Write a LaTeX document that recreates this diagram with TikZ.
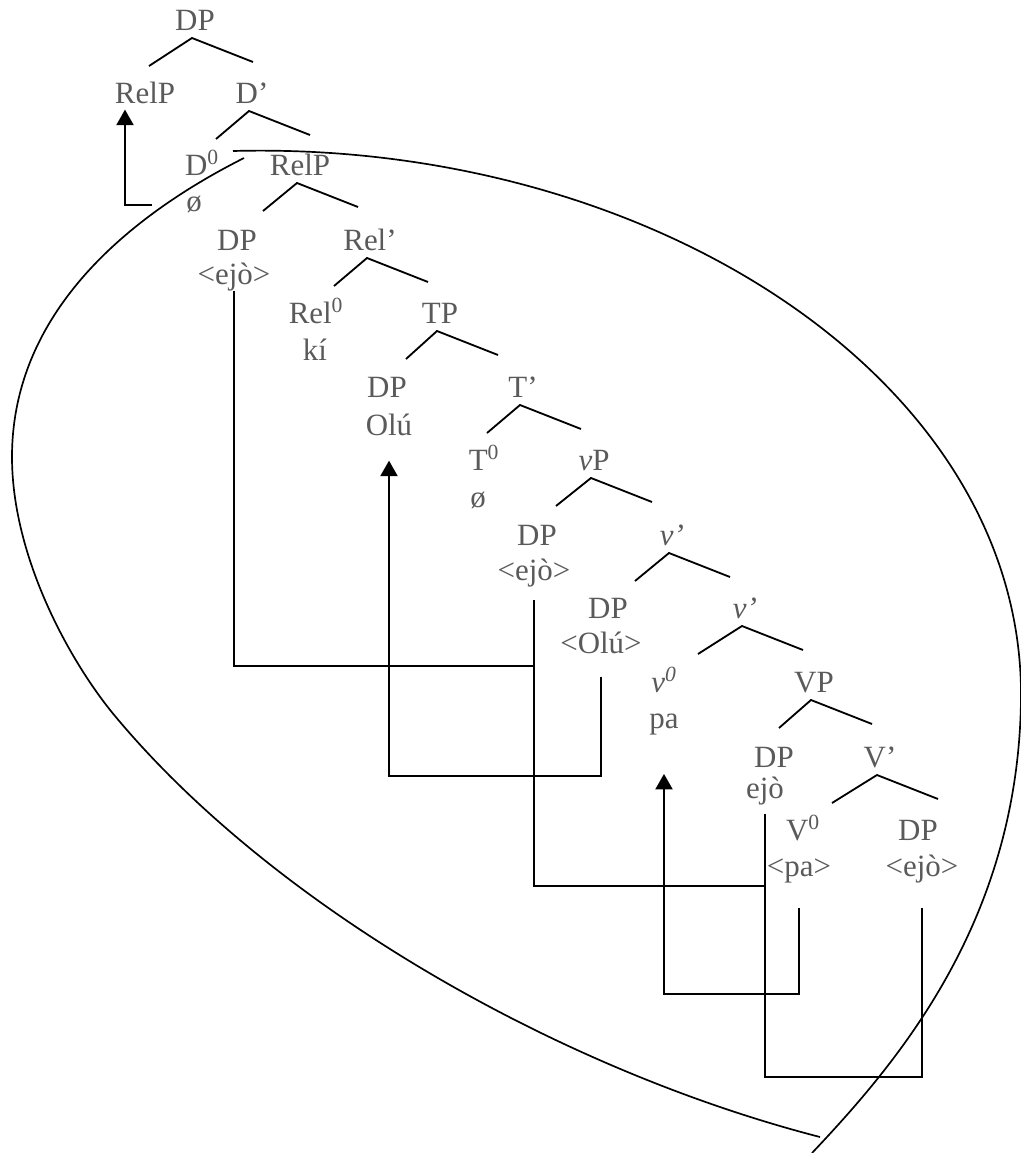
\documentclass[tikz,border=0pt]{standalone}
\usepackage{fontspec}
\setmainfont{Liberation Serif}
\usepackage{xcolor}
\usetikzlibrary{arrows.meta,calc}
\definecolor{labelgray}{HTML}{5A5A5A}

\begin{document}
\begin{tikzpicture}[
  x=0.025cm, y=-0.025cm,
  cat/.style={text=labelgray, font=\fontsize{22}{26}\selectfont, inner sep=0pt, anchor=base},
  branch/.style={line width=1.3pt},
  trace/.style={line width=1.1pt},
  move/.style={line width=1.7pt, -{Triangle[width=12pt,length=11pt]}},
  loopline/.style={line width=1.2pt}
]
\useasboundingbox (0,0) rectangle (1021,1153);

% categories and words, top to bottom
\node[cat] (dpTop)   at (195,30)  {DP};
\node[cat] (relpL)   at (145,103) {RelP};
\node[cat] (dbar)    at (252,103) {D’};
\node[cat] (dzero)   at (202,175) {D\textsuperscript{0}};
\node[cat] (dnull)   at (194,211) {ø};
\node[cat] (relp)    at (300,175) {RelP};
\node[cat] (dpEjoA)  at (237,250) {DP};
\node[cat] (ejoA)    at (234,284) {<ejò>};
\node[cat] (relbar)  at (370,250) {Rel’};
\node[cat] (relzero) at (316,323) {Rel\textsuperscript{0}};
\node[cat] (ki)      at (315,360) {kí};
\node[cat] (tp)      at (440,323) {TP};
\node[cat] (dpOluA)  at (387,397) {DP};
\node[cat] (oluA)    at (389,435) {Olú};
\node[cat] (tbar)    at (523,397) {T’};
\node[cat] (tzero)   at (484,470) {T\textsuperscript{0}};
\node[cat] (tnull)   at (478,507) {ø};
\node[cat] (lvp)     at (594,470) {\textit{v}P};
\node[cat] (dpEjoB)  at (537,545) {DP};
\node[cat] (ejoB)    at (534,580) {<ejò>};
\node[cat] (vbarA)   at (672,545) {\textit{v’}};
\node[cat] (dpOluB)  at (608,618) {DP};
\node[cat] (oluB)    at (601,653) {<Olú>};
\node[cat] (vbarB)   at (745,618) {\textit{v’}};
\node[cat] (vzero)   at (664,692) {\textit{v}\textsuperscript{\textit{0}}};
\node[cat] (pa)      at (664,728) {pa};
\node[cat] (bigvp)   at (814,692) {VP};
\node[cat] (dpEjoC)  at (774,767) {DP};
\node[cat] (ejoC)    at (765,798) {ejò};
\node[cat] (Vbar)    at (880,767) {V’};
\node[cat] (Vzero)   at (803,840) {V\textsuperscript{0}};
\node[cat] (paB)     at (799,876) {<pa>};
\node[cat] (dpEjoD)  at (918,840) {DP};
\node[cat] (ejoD)    at (922,876) {<ejò>};

% branches under each phrasal node
\foreach \p/\dl in {dpTop/43, dbar/33, relp/34, relbar/33, tp/31, tbar/33,
                    lvp/35, vbarA/34, vbarB/44, bigvp/32, Vbar/45}
  \draw[branch] ($(\p.base)+(-3-\dl,36)$) -- ($(\p.base)+(-3,8)$) -- ($(\p.base)+(58,32)$);

% levels of the horizontal parts of the movement lines
\coordinate (hA) at (0,666);
\coordinate (hB) at (0,886);
\coordinate (hC) at (0,1077);
\coordinate (hO) at (0,776);
\coordinate (hP) at (0,994);
\coordinate (loopHit) at (152,205);

% chain of ejo copies
\draw[trace] (ejoA.south) |- (ejoB.south |- hA);
\draw[trace, shorten <=0.325cm] (ejoB.south) |- (ejoC.south |- hB);
\draw[trace, shorten <=0.225cm, shorten >=0.625cm]
  (ejoC.south) |- (ejoD.south |- hC) -- (ejoD.south);

% subject and verb movement
\draw[move, shorten <=0.575cm, shorten >=0.625cm]
  (oluB.south) |- (oluA.south |- hO) -- (oluA.south);
\draw[move, shorten <=0.625cm, shorten >=0.975cm]
  (paB.south) |- (pa.south |- hP) -- (pa.south);

% the circled RelP moves up
\draw[move, shorten >=0.15cm] (loopHit) -| ([xshift=-0.5cm]relpL.south);

% loop round the lower RelP, two open strokes crossing at the bottom
\draw[loopline] (233,151) .. controls (650,140) and (1025,380) .. (1021,700)
  .. controls (1018,920) and (900,1060) .. (812,1153);
\draw[loopline] (244,158) .. controls (137,212) and (12,307) .. (12,457)
  .. controls (12,557) and (70,662) .. (115,716)
  .. controls (275,908) and (560,1070) .. (820,1137);
\end{tikzpicture}
\end{document}
